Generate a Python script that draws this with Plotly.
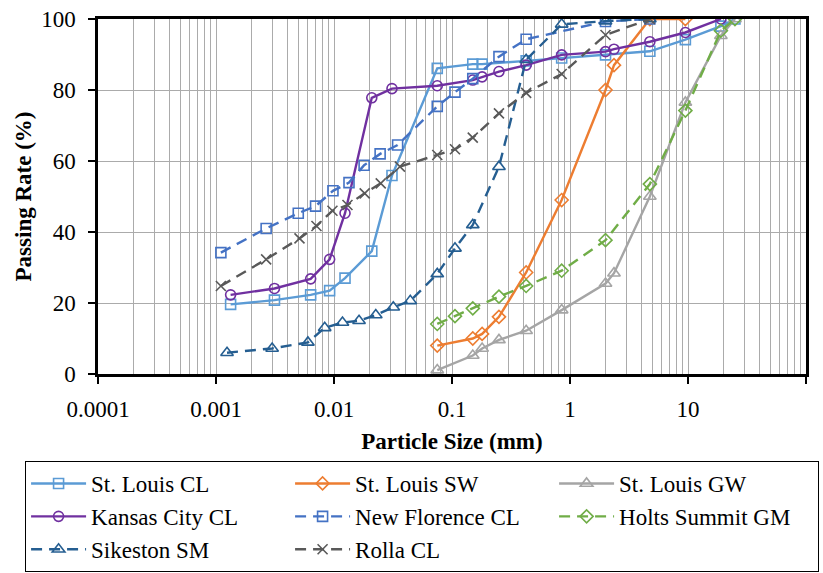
import plotly.graph_objects as go

# ---------------- data ----------------
series_names = ["St. Louis CL", "St. Louis SW", "St. Louis GW", "Kansas City CL",
                "New Florence CL", "Holts Summit GM", "Sikeston SM", "Rolla CL"]

x_stl_cl = [0.00133, 0.00313, 0.00634, 0.00918, 0.0124, 0.0209, 0.031, 0.075, 0.15, 0.18,
            0.425, 0.85, 2.0, 4.75, 9.5, 19, 25]
y_stl_cl = [19.6, 20.8, 22.3, 23.5, 27.0, 34.6, 55.9, 86.1, 87.3, 87.3,
            88.2, 89.0, 89.9, 90.9, 94.2, 98.0, 100]

x_stl_sw = [0.075, 0.15, 0.18, 0.25, 0.425, 0.85, 2.0, 2.36, 4.75, 9.5]
y_stl_sw = [8.0, 10.0, 11.3, 16.1, 28.6, 49.0, 80.0, 87.0, 100, 100]

x_stl_gw = [0.075, 0.15, 0.18, 0.25, 0.425, 0.85, 2.0, 2.36, 4.75, 9.5, 19, 25]
y_stl_gw = [1.1, 5.2, 7.2, 9.6, 12.2, 18.0, 25.5, 28.4, 50.0, 76.5, 95.3, 100]

x_kc_cl = [0.00133, 0.00313, 0.00634, 0.00918, 0.0124, 0.0209, 0.031, 0.075, 0.15, 0.18,
           0.25, 0.425, 0.85, 2.0, 2.36, 4.75, 9.5, 19]
y_kc_cl = [22.3, 24.1, 26.8, 32.3, 45.3, 77.8, 80.4, 81.2, 82.8, 83.7,
           85.2, 87.0, 89.9, 90.8, 91.5, 93.6, 96.2, 100]

x_nf_cl = [0.0011, 0.00266, 0.00498, 0.00698, 0.0098, 0.0134, 0.018, 0.0246, 0.0346,
           0.075, 0.106, 0.15, 0.25, 0.425, 2.0, 4.75]
y_nf_cl = [34.2, 41.0, 45.3, 47.3, 51.6, 53.9, 58.8, 62.0, 64.5,
           75.4, 79.4, 83.2, 89.4, 94.3, 99.3, 100]

x_hs_gm = [0.075, 0.106, 0.15, 0.25, 0.425, 0.85, 2.0, 4.75, 9.5, 19, 25]
y_hs_gm = [14.1, 16.3, 18.5, 21.8, 24.8, 29.1, 37.7, 53.5, 74.2, 96.7, 100]

x_sk_sm = [0.00124, 0.00299, 0.00601, 0.00834, 0.0118, 0.0163, 0.0226, 0.0318, 0.0443,
           0.075, 0.106, 0.15, 0.25, 0.425, 0.85, 2.0, 4.75]
y_sk_sm = [6.0, 7.2, 8.9, 13.0, 14.5, 15.0, 16.6, 18.8, 20.6,
           28.2, 35.4, 42.0, 58.4, 88.5, 98.5, 99.4, 100]

x_ro_cl = [0.0011, 0.00266, 0.0051, 0.0071, 0.0097, 0.013, 0.0182, 0.0249, 0.0362,
           0.075, 0.106, 0.15, 0.25, 0.425, 0.85, 2.0, 4.75]
y_ro_cl = [24.8, 32.3, 38.2, 41.7, 46.0, 47.6, 50.9, 53.7, 58.4,
           61.7, 63.3, 66.6, 73.4, 79.2, 84.5, 95.5, 100]

x_tick_vals = [0.0001, 0.001, 0.01, 0.1, 1, 10, 100]
x_tick_text = ["0.0001", "0.001", "0.01", "0.1", "1", "10", "100"]
y_tick_vals = [0, 20, 40, 60, 80, 100]

# ---------------- styles ----------------
FONT = "Liberation Serif"
DASH = "11px,7px"
styles = [
    dict(color="#5B9BD5", symbol="square-open", dash="solid", size=10),
    dict(color="#ED7D31", symbol="diamond-open", dash="solid", size=10),
    dict(color="#A5A5A5", symbol="triangle-up-open", dash="solid", size=11),
    dict(color="#7030A0", symbol="circle-open", dash="solid", size=10),
    dict(color="#4472C4", symbol="square-open", dash=DASH, size=10),
    dict(color="#70AD47", symbol="diamond-open", dash=DASH, size=10),
    dict(color="#255E91", symbol="triangle-up-open", dash=DASH, size=11),
    dict(color="#595959", symbol="x-thin-open", dash=DASH, size=10),
]
data = [(x_stl_cl, y_stl_cl), (x_stl_sw, y_stl_sw), (x_stl_gw, y_stl_gw), (x_kc_cl, y_kc_cl),
        (x_nf_cl, y_nf_cl), (x_hs_gm, y_hs_gm), (x_sk_sm, y_sk_sm), (x_ro_cl, y_ro_cl)]

fig = go.Figure()
for name, (xs, ys), st in zip(series_names, data, styles):
    fig.add_trace(go.Scatter(
        x=xs, y=ys, name=name, mode="lines+markers",
        line=dict(color=st["color"], width=2.4, dash=st["dash"]),
        marker=dict(symbol=st["symbol"], size=st["size"], color=st["color"],
                    line=dict(color=st["color"], width=1.6)),
    ))

grid_col = "#ABABAB"
fig.update_layout(
    width=823, height=573,
    margin=dict(l=98, r=17, t=19, b=199, autoexpand=False),
    paper_bgcolor="white", plot_bgcolor="white",
    font=dict(family=FONT, size=23, color="black"),
    xaxis=dict(
        type="log", range=[-4, 2],
        tickvals=x_tick_vals, ticktext=x_tick_text,
        showgrid=True, gridcolor=grid_col, gridwidth=1.3,
        minor=dict(dtick="D1", showgrid=True, gridcolor=grid_col, gridwidth=1.3, ticks=""),
        showline=True, linecolor="black", linewidth=2.5, mirror=True,
        ticks="outside", ticklen=7, tickwidth=1.5, tickcolor="black",
        ticklabelstandoff=6,
        tickfont=dict(family=FONT, size=23),
        title=dict(text="<b>Particle Size (mm)</b>", font=dict(family=FONT, size=23), standoff=12),
        zeroline=False,
    ),
    yaxis=dict(
        range=[0, 100], tickvals=y_tick_vals,
        showgrid=True, gridcolor=grid_col, gridwidth=1.3,
        showline=True, linecolor="black", linewidth=2.5, mirror=True,
        ticks="outside", ticklen=7, tickwidth=1.5, tickcolor="black",
        ticklabelstandoff=8,
        tickfont=dict(family=FONT, size=23),
        title=dict(text="<b>Passing Rate (%)</b>", font=dict(family=FONT, size=23), standoff=4),
        zeroline=False,
    ),
    legend=dict(
        orientation="h", x=-0.103, xanchor="left", y=-0.245, yanchor="top",
        bordercolor="black", borderwidth=1, bgcolor="white",
        font=dict(family=FONT, size=23),
        entrywidth=194, entrywidthmode="pixels",
        itemwidth=55, tracegroupgap=0,
    ),
    showlegend=True,
)

fig.write_html("out.html")
